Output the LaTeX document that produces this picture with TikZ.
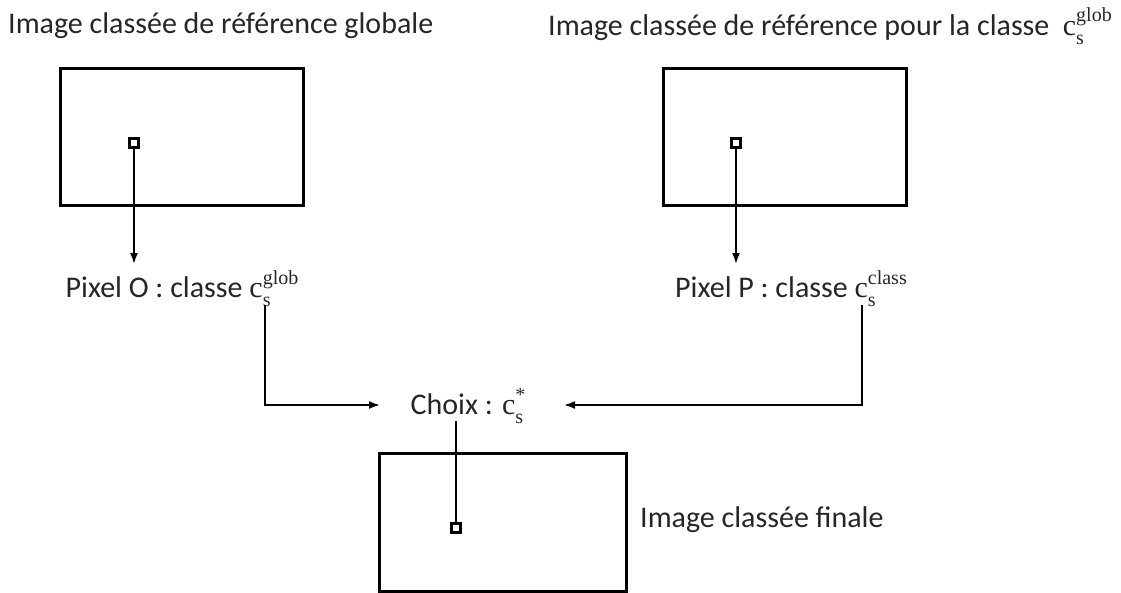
\documentclass[tikz,border=0pt]{standalone}
\usepackage{fontspec}
\setmainfont{Carlito}
\newfontfamily\mfont{Liberation Serif}
\usetikzlibrary{arrows.meta}
\newcommand{\scr}{\fontsize{20}{20}\selectfont\mfont}
\newcommand{\cs}[1]{{\mfont c}\rlap{\raisebox{-0.3em}{\scr s}}\raisebox{0.45em}{\scr #1}}
\begin{document}
\begin{tikzpicture}[x=1pt,y=-1pt,
  lbl/.style={inner sep=0pt,font=\fontsize{30}{34}\selectfont,text=black!85},
  frame/.style={draw,line width=3pt},
  pix/.style={draw,line width=2.6pt,minimum size=9pt,inner sep=0pt,fill=white},
  conn/.style={line width=1.8pt},
  arr/.style={conn,-{Latex[length=11pt,width=8pt]}}]
\useasboundingbox (0,0) rectangle (1121,592);
% boxes
\node[frame,minimum width=243pt,minimum height=137pt,anchor=north west] (b1) at (59,67) {};
\node[frame,minimum width=243pt,minimum height=137pt,anchor=north west] (b2) at (662,67) {};
\node[frame,minimum width=247pt,minimum height=138pt,anchor=north west] (b3) at (378,452) {};
% titles
\node[lbl,anchor=west] (t1) at (8,26) {Image classée de référence globale};
\node[lbl,anchor=west] (t2) at (548,26) {Image classée de référence pour la classe~ \cs{glob}};
\node[lbl,anchor=west] (t3) at (640,520) {Image classée finale};
% pixel labels
\node[lbl,anchor=north] (p1) at (182,270) {Pixel O : classe \cs{glob}};
\node[lbl,anchor=north] (p2) at (791,270) {Pixel P : classe \cs{class}};
\node[lbl] (ch) at (468,406) {Choix : \cs{*}};
% small pixels
\node[pix] (s1) at (134,143) {};
\node[pix] (s2) at (736,143) {};
\node[pix] (s3) at (456,528) {};
% connectors
\coordinate (a1) at (134,264);
\coordinate (a2) at (736,264);
\draw[arr] (s1.south) -- (a1);
\draw[arr] (s2.south) -- (a2);
\coordinate (l0) at (265,305);
\coordinate (l1) at (265,405);
\coordinate (le) at (380,405);
\coordinate (r0) at (862,305);
\coordinate (r1) at (862,405);
\coordinate (re) at (564,405);
\draw[arr] (l0) -- (l1) -- (le);
\draw[arr] (r0) -- (r1) -- (re);
\coordinate (c0) at (456,421);
\draw[conn] (c0) -- (s3.north);
\end{tikzpicture}
\end{document}
